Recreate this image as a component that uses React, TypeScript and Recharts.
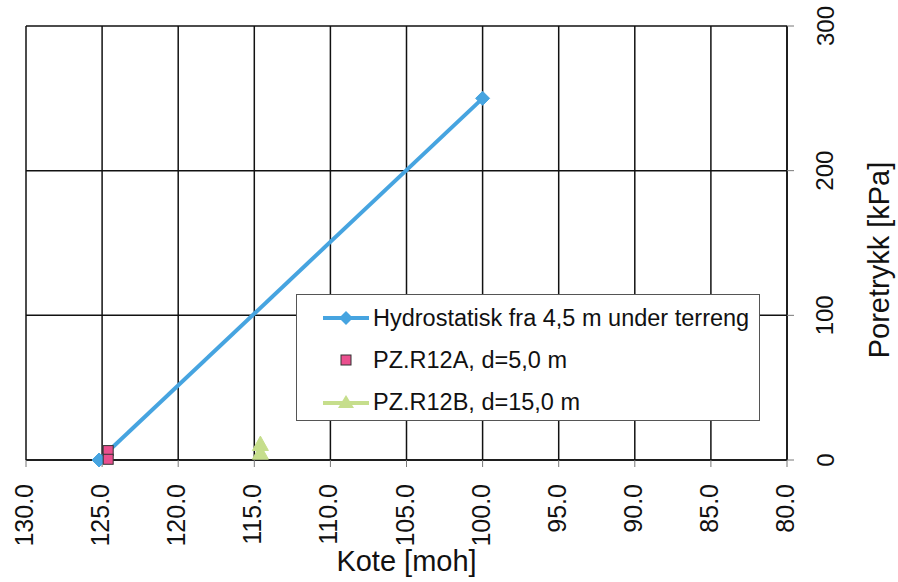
import React from 'react';
import { ScatterChart, Scatter, XAxis, YAxis, CartesianGrid, Legend } from 'recharts';

const seriesNames = [
  'Hydrostatisk fra 4,5 m under terreng',
  'PZ.R12A, d=5,0 m',
  'PZ.R12B, d=15,0 m',
];
const hydroKote = [125.2, 100.0];
const hydroTrykk = [0, 250];
const r12aKote = [124.6, 124.6];
const r12aTrykk = [6.5, 0.5];
const r12bKote = [114.6, 114.6];
const r12bTrykk = [11, 5];
const xTicks = [130, 125, 120, 115, 110, 105, 100, 95, 90, 85, 80];
const yTicks = [0, 100, 200, 300];

const FONT = '"Liberation Sans", Arial, sans-serif';
const BLUE = '#46a4e0';
const PINK = '#ea4f8e';
const GREEN = '#c6de8c';

const toPts = (xs: number[], ys: number[]) => xs.map((x, i) => ({ x, y: ys[i] }));

const Diamond = (p: any) => {
  const { cx, cy } = p;
  const s = 7;
  return <polygon points={`${cx},${cy - s} ${cx + s},${cy} ${cx},${cy + s} ${cx - s},${cy}`} fill={BLUE} stroke={BLUE} />;
};
const Square = (p: any) => {
  const { cx, cy } = p;
  const s = 5;
  return <rect x={cx - s} y={cy - s} width={2 * s} height={2 * s} fill={PINK} stroke="#333" strokeWidth={1} />;
};
const Triangle = (p: any) => {
  const { cx, cy } = p;
  const s = 8;
  return <polygon points={`${cx},${cy - s} ${cx + s},${cy + s * 0.8} ${cx - s},${cy + s * 0.8}`} fill={GREEN} stroke={GREEN} />;
};

const XTick = (p: any) => {
  const { x, y, payload } = p;
  const ax = x - 2;
  const ay = y + 15;
  return (
    <text x={ax} y={ay} transform={`rotate(-90, ${ax}, ${ay})`} textAnchor="end" dominantBaseline="central"
      fontSize={25} fontFamily={FONT} fill="#111">
      {Number(payload.value).toFixed(1)}
    </text>
  );
};
const YTick = (p: any) => {
  const { x, y, payload } = p;
  const ax = x + 29;
  return (
    <text x={ax} y={y} transform={`rotate(-90, ${ax}, ${y})`} textAnchor="middle" dominantBaseline="central"
      fontSize={24} fontFamily={FONT} fill="#111">
      {payload.value}
    </text>
  );
};

const XLabel = (p: any) => {
  const vb = p.viewBox || {};
  const cx = vb.x + vb.width / 2;
  return (
    <text x={cx} y={vb.y + 111} textAnchor="middle" fontSize={29} fontFamily={FONT} fill="#111">
      Kote [moh]
    </text>
  );
};
const YLabel = (p: any) => {
  const vb = p.viewBox || {};
  const cx = vb.x + 92;
  const cy = vb.y + vb.height / 2 + 17;
  return (
    <text x={cx} y={cy} transform={`rotate(-90, ${cx}, ${cy})`} textAnchor="middle" dominantBaseline="central"
      fontSize={29} fontFamily={FONT} fill="#111">
      Poretrykk [kPa]
    </text>
  );
};

const LegendIcon = ({ i }: { i: number }) => {
  const st = { flexShrink: 0, display: 'block' } as React.CSSProperties;
  if (i === 0) {
    return (
      <svg width={48} height={20} style={st}>
        <line x1={1} y1={10} x2={47} y2={10} stroke={BLUE} strokeWidth={4} />
        <polygon points="24,3 31,10 24,17 17,10" fill={BLUE} />
      </svg>
    );
  }
  if (i === 1) {
    return (
      <svg width={48} height={20} style={st}>
        <rect x={19} y={5} width={10} height={10} fill={PINK} stroke="#333" strokeWidth={1} />
      </svg>
    );
  }
  return (
    <svg width={48} height={20} style={st}>
      <line x1={1} y1={11} x2={47} y2={11} stroke={GREEN} strokeWidth={4} />
      <polygon points="24,3 32,16 16,16" fill={GREEN} />
    </svg>
  );
};

const LegendBox = () => (
  <div style={{ width: 462, height: 123, border: '1px solid #555', background: '#fff', boxSizing: 'content-box', paddingTop: 2, overflow: 'visible' }}>
    {seriesNames.map((n, i) => (
      <div key={n} style={{ height: 42, display: 'flex', alignItems: 'center', paddingLeft: 25 }}>
        <LegendIcon i={i} />
        <span style={{ marginLeft: 3, fontSize: 23.5, fontFamily: FONT, color: '#111', whiteSpace: 'nowrap', flexShrink: 0 }}>{n}</span>
      </div>
    ))}
  </div>
);

export default function App() {
  return (
    <div style={{ position: 'absolute', left: 0, top: 0, width: 898, height: 582, background: '#fff' }}>
      <ScatterChart width={898} height={582} margin={{ top: 26, left: 26, right: 0, bottom: 0 }}>
        <CartesianGrid stroke="#111" strokeWidth={1.5} horizontalValues={yTicks} verticalValues={xTicks} />
        <XAxis type="number" dataKey="x" domain={[80, 130]} reversed ticks={xTicks} interval={0}
          height={122} tick={<XTick />} tickSize={7} tickLine={{ stroke: '#777' }} axisLine={{ stroke: '#111', strokeWidth: 1.5 }}
          label={<XLabel />} />
        <YAxis type="number" dataKey="y" orientation="right" domain={[0, 300]} ticks={yTicks} interval={0}
          width={111} tick={<YTick />} tickSize={7} tickLine={{ stroke: '#777' }} axisLine={{ stroke: '#111', strokeWidth: 1.5 }}
          label={<YLabel />} />
        <Legend layout="horizontal" verticalAlign="middle" align="center" content={<LegendBox />}
          wrapperStyle={{ left: 296, top: 294, width: 464, height: 125 }} />
        <Scatter name={seriesNames[0]} data={toPts(hydroKote, hydroTrykk)} line={{ stroke: BLUE, strokeWidth: 4 }}
          lineType="joint" shape={<Diamond />} fill={BLUE} isAnimationActive={false} />
        <Scatter name={seriesNames[1]} data={toPts(r12aKote, r12aTrykk)} shape={<Square />} fill={PINK} isAnimationActive={false} />
        <Scatter name={seriesNames[2]} data={toPts(r12bKote, r12bTrykk)} shape={<Triangle />} fill={GREEN} isAnimationActive={false} />
      </ScatterChart>
    </div>
  );
}
